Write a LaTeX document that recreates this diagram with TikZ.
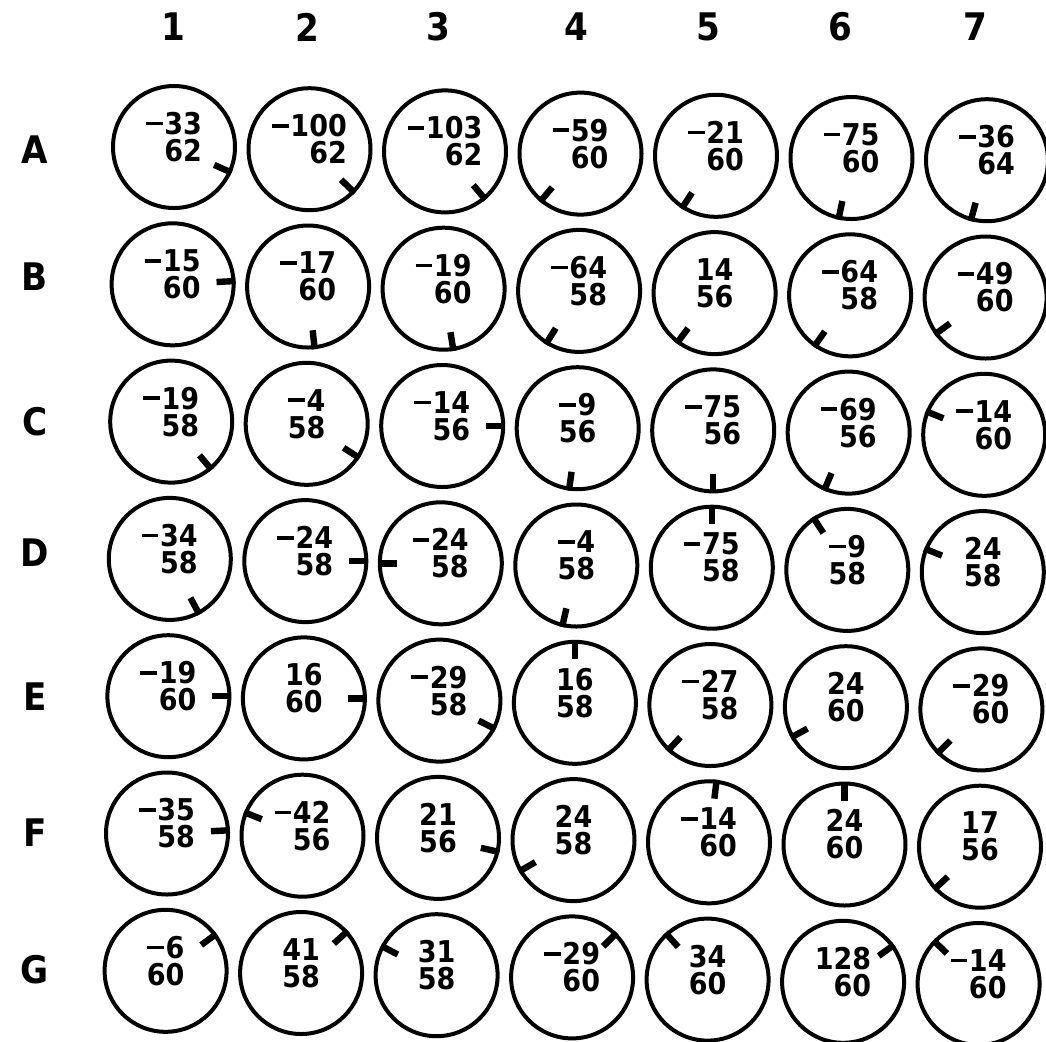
\documentclass[tikz,border=0pt]{standalone}
\usepackage{fontspec}
\setmainfont{DejaVu Sans Condensed}
\usetikzlibrary{calc}
\newcommand\mi{\rule[0.3em]{0.55em}{0.12em}\kern0.06em}
\tikzset{well/.style={draw,circle,line width=2pt,minimum size=61pt,inner sep=0pt}}
\tikzset{tick/.style={line width=3.2pt}}
\tikzset{val/.style={align=right,inner sep=0pt,font=\bfseries\fontsize{15}{13.5}\selectfont}}
\tikzset{hdr/.style={inner sep=0pt,font=\bfseries\fontsize{19}{19}\selectfont}}

\begin{document}
\begin{tikzpicture}[x=0.5pt,y=-0.5pt]
	\useasboundingbox (0,0) rectangle (1046,1041);

	\foreach \x [count=\c] in {173,307,438,576,708,840,975}
		\node[hdr] (col\c) at (\x,27) {\c};
	\foreach \y/\l in {150/A,277/B,422/C,553/D,697/E,833/F,970/G}
		\node[hdr] (row\l) at (35,\y) {\l};

	% top value / bottom value / angle of the mark
	\foreach \r/\rl/\cells in {
		1/A/{\mi33/62/-24, \mi100/62/-44, \mi103/62/-50, \mi59/60/-130, \mi21/60/-123, \mi75/60/-102, \mi36/64/-105},
		2/B/{\mi15/60/3, \mi17/60/-84, \mi19/60/-81, \mi64/58/-122, 14/56/-127, \mi64/58/-125, \mi49/60/-144},
		3/C/{\mi19/58/-50, \mi4/58/-33, \mi14/56/0, \mi9/56/-98, \mi75/56/-90, \mi69/56/-113, \mi14/60/158},
		4/D/{\mi34/58/-62, \mi24/58/0, \mi24/58/180, \mi4/58/-103, \mi75/58/90, \mi9/58/123, 24/58/158},
		5/E/{\mi19/60/0, 16/60/0, \mi29/58/-27, 16/58/90, \mi27/58/-133, 24/60/-151, \mi29/60/-135},
		6/F/{\mi35/58/3, \mi42/56/158, 21/56/-13, 24/58/-150, \mi14/60/83, 24/60/90, 17/56/-137},
		7/G/{\mi6/60/36, 41/58/42, 31/58/152, \mi29/60/45, 34/60/132, 128/60/36, \mi14/60/136}}
	{
		\foreach \t/\b/\a [count=\c] in \cells {
			\node[well] (\rl\c) at ({174+(\c-1)*135.5-(\r-1)*1.4},{147+(\r-1)*137.3+(\c-1)*2.2}) {};
			\node[val] (v\rl\c) at ([yshift=5pt]\rl\c.center) {\t\\\b};
			\draw[tick] (\rl\c.\a) -- ($(\rl\c.\a)!9.5pt!(\rl\c.center)$);
		}
	}
\end{tikzpicture}
\end{document}
